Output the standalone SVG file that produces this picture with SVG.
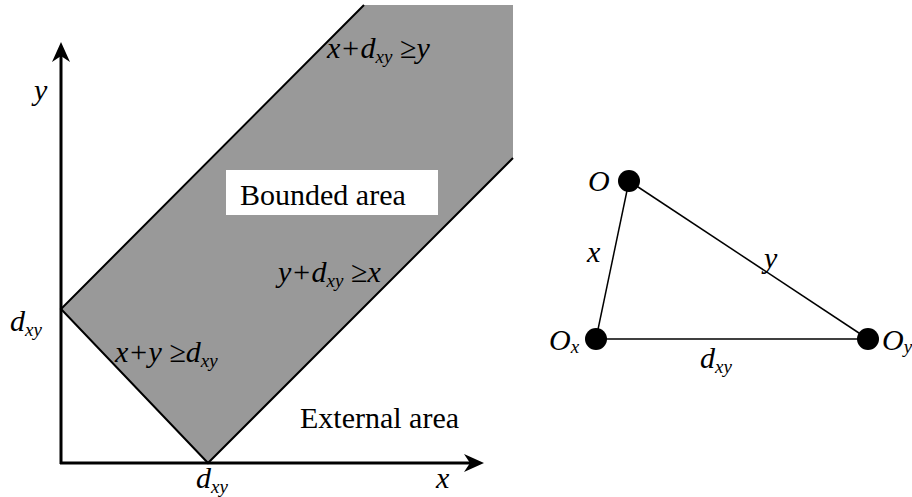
<svg xmlns="http://www.w3.org/2000/svg" width="912" height="497" viewBox="0 0 912 497">
<style>
.t{font-family:"Liberation Serif","Times New Roman",serif;font-size:30px;fill:#000}
.i{font-style:italic}
.s{font-size:19px}
.ax{stroke:#000;stroke-width:3;fill:none}
.ed{stroke:#000;stroke-width:2;fill:none}
.ln{stroke:#000;stroke-width:1.5;fill:none}
.dot{fill:#000}
</style>
<rect width="912" height="497" fill="#fff"/>
<g id="bounded-region">
<polygon points="61,309 364,5 513,5 513,158 208,463" fill="#999999"/>
<polyline class="ed" points="364,5 61,309 208,463 513,158"/>
</g>
<g id="axes">
<line class="ax" x1="61" y1="464" x2="61" y2="48"/>
<path d="M61,42 L70,62 L61,56 L52,62 Z" fill="#000"/>
<line class="ax" x1="60" y1="463" x2="477" y2="463"/>
<path d="M484,463 L464,472 L470,463 L464,454 Z" fill="#000"/>
</g>
<g id="bounded-label">
<rect x="226" y="170" width="212" height="45" fill="#fff"/>
<text class="t" x="240" y="205">Bounded area</text>
</g>
<g id="labels-left">
<text class="t i" x="34" y="100">y</text>
<text class="t i" x="436" y="488">x</text>
<text class="t i" x="10" y="331">d<tspan class="s" dy="5">xy</tspan></text>
<text class="t i" x="196" y="488">d<tspan class="s" dy="5">xy</tspan></text>
<text class="t i" x="327" y="58">x+d<tspan class="s" dy="5">xy</tspan><tspan dy="-5"> ≥y</tspan></text>
<text class="t i" x="278" y="282">y+d<tspan class="s" dy="5">xy</tspan><tspan dy="-5"> ≥x</tspan></text>
<text class="t i" x="115" y="362">x+y ≥d<tspan class="s" dy="5">xy</tspan></text>
<text class="t" x="300" y="428">External area</text>
</g>
<g id="connectors">
<line class="ln" x1="629" y1="181" x2="596" y2="339"/>
<line class="ln" x1="629" y1="181" x2="868" y2="339"/>
<line class="ln" x1="596" y1="339" x2="868" y2="339"/>
</g>
<g id="node-O">
<circle class="dot" cx="629" cy="181" r="11"/>
<text class="t i" x="588" y="191">O</text>
</g>
<g id="node-Ox">
<circle class="dot" cx="596" cy="339" r="11"/>
<text class="t i" x="549" y="350">O<tspan class="s" dy="3">x</tspan></text>
</g>
<g id="node-Oy">
<circle class="dot" cx="868" cy="339" r="11"/>
<text class="t i" x="882" y="350">O<tspan class="s" dy="3">y</tspan></text>
</g>
<g id="edge-labels">
<text class="t i" x="587" y="262">x</text>
<text class="t i" x="764" y="268">y</text>
<text class="t i" x="700" y="368">d<tspan class="s" dy="5">xy</tspan></text>
</g>
</svg>
